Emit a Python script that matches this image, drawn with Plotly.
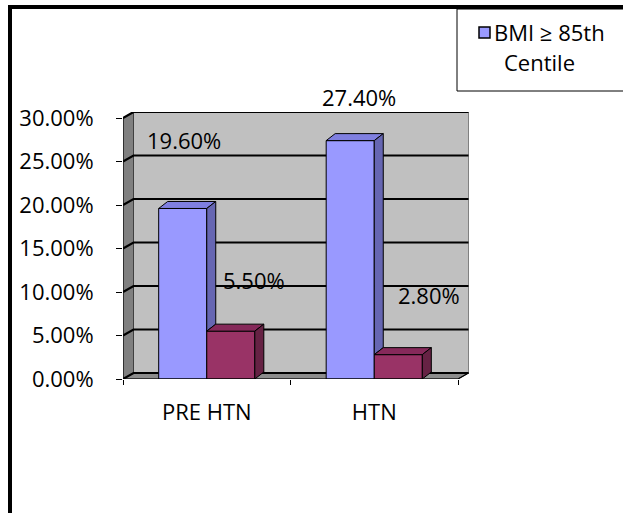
import plotly.graph_objects as go

# ---------------- data ----------------
categories = ["PRE HTN", "HTN"]
bmi_ge_85 = [19.6, 27.4]          # blue series
bmi_lt_85 = [5.5, 2.8]            # maroon series
series_names = ["BMI ≥ 85th Centile", "BMI < 85th Centile"]
y_tick_values = [0, 5, 10, 15, 20, 25, 30]

# ---------------- style / layout constants ----------------
W, H = 623, 513
PL, PR, PT, PB = 123, 469, 112, 379          # plot area in pixels
PX_PER_CAT = 167.5
PX_PER_PCT = 8.7
X_RANGE = [-0.5, -0.5 + (PR - PL) / PX_PER_CAT]
Y_RANGE = [0, (PB - PT) / PX_PER_PCT]

BARGAP = 0.426
BW = (1 - BARGAP) / 2                         # width of one bar in x units
DXB, DYB = 9 / PX_PER_CAT, 7 / PX_PER_PCT     # bar depth
DXW, DYW = 10.5 / PX_PER_CAT, 6 / PX_PER_PCT  # wall depth

FRONT = ["#9999FF", "#993366"]
TOP = ["#7F7FE0", "#86295A"]
SIDE = ["#6666B2", "#662244"]
WALL = "#C0C0C0"
SIDEWALL = "#808080"
FONT = "Open Sans"
FS = 22

# data label anchor positions (x in category units, y in % units)
label_pos = [[(-0.136, 27.47), (0.906, 32.47)],
             [(0.282, 11.38), (1.324, 9.71)]]

def pxx(px):
    return (px - PL) / (PR - PL)

def pxy(py):
    return (PB - py) / (PB - PT)

def dx_paper(x):
    return (x - X_RANGE[0]) / (X_RANGE[1] - X_RANGE[0])

def dy_paper(y):
    return (y - Y_RANGE[0]) / (Y_RANGE[1] - Y_RANGE[0])

fig = go.Figure()

series = [bmi_ge_85, bmi_lt_85]
xs = list(range(len(categories)))

# front faces
for j, vals in enumerate(series):
    fig.add_trace(go.Bar(
        x=xs, y=vals, name=series_names[j],
        marker=dict(color=FRONT[j], line=dict(color="black", width=1)),
        showlegend=False, hoverinfo="skip"))

# top and side faces
G = 2 * BW
for j, vals in enumerate(series):
    for i, v in enumerate(vals):
        x0 = i - G / 2 + j * BW
        x1 = x0 + BW
        fig.add_trace(go.Scatter(
            x=[x0, x1, x1 + DXB, x0 + DXB, x0],
            y=[v, v, v + DYB, v + DYB, v],
            mode="lines", fill="toself", fillcolor=TOP[j],
            line=dict(color="black", width=1), showlegend=False, hoverinfo="skip"))
        lo = series[j + 1][i] if j + 1 < len(series) else 0
        lo = min(lo, v)
        fig.add_trace(go.Scatter(
            x=[x1, x1, x1 + DXB, x1 + DXB, x1],
            y=[lo, v, v + DYB, lo + DYB, lo],
            mode="lines", fill="toself", fillcolor=SIDE[j],
            line=dict(color="black", width=1), showlegend=False, hoverinfo="skip"))

shapes = []
xl, xr = -0.5, len(categories) - 0.5
ytop = y_tick_values[-1]
# back wall
shapes.append(dict(type="path", layer="below", xref="x", yref="y",
                   path=f"M{xl+DXW},{DYW} L{xr+DXW},{DYW} L{xr+DXW},{ytop+DYW} L{xl+DXW},{ytop+DYW} Z",
                   fillcolor=WALL, line=dict(color="#808080", width=1)))
# left wall
shapes.append(dict(type="path", layer="below", xref="x", yref="y",
                   path=f"M{xl},0 L{xl+DXW},{DYW} L{xl+DXW},{ytop+DYW} L{xl},{ytop} Z",
                   fillcolor=SIDEWALL, line=dict(color="#404040", width=1)))
# floor
shapes.append(dict(type="path", layer="below", xref="x", yref="y",
                   path=f"M{xl},0 L{xr},0 L{xr+DXW},{DYW} L{xl+DXW},{DYW} Z",
                   fillcolor="#8C8C8C", line=dict(color="#404040", width=1)))
# gridlines
for v in y_tick_values:
    shapes.append(dict(type="path", layer="below", xref="x", yref="y",
                       path=f"M{xl},{v} L{xl+DXW},{v+DYW} L{xr+DXW},{v+DYW}",
                       line=dict(color="black", width=2.2)))
# front y edge
shapes.append(dict(type="line", xref="x", yref="y", x0=xl, x1=xl, y0=0, y1=ytop,
                   line=dict(color="black", width=1)))
# x baseline + slant at right end
shapes.append(dict(type="path", xref="x", yref="y",
                   path=f"M{xl},0 L{xr},0 L{xr+DXW},{DYW}",
                   line=dict(color="black", width=1.2)))

# outer border (cropped frame)
shapes.append(dict(type="line", xref="paper", yref="paper",
                   x0=pxx(8), x1=pxx(W + 5), y0=pxy(7), y1=pxy(7),
                   line=dict(color="black", width=4)))
shapes.append(dict(type="line", xref="paper", yref="paper",
                   x0=pxx(10), x1=pxx(10), y0=pxy(5), y1=pxy(H + 5),
                   line=dict(color="black", width=4)))
# legend box
shapes.append(dict(type="rect", xref="paper", yref="paper",
                   x0=pxx(457), x1=pxx(W + 20), y0=pxy(9), y1=pxy(91),
                   fillcolor="white", line=dict(color="black", width=1)))
shapes.append(dict(type="rect", xref="paper", yref="paper",
                   x0=pxx(479), x1=pxx(490), y0=pxy(27), y1=pxy(38),
                   fillcolor=FRONT[0], line=dict(color="black", width=1.5)))

annotations = []
for j, vals in enumerate(series):
    for i, v in enumerate(vals):
        ax, ay = label_pos[j][i]
        annotations.append(dict(x=dx_paper(ax), y=dy_paper(ay), xref="paper", yref="paper",
                                text=f"{v:.2f}%",
                                showarrow=False, xanchor="center", yanchor="middle",
                                font=dict(family=FONT, size=FS, color="black")))
legend_lines = ["BMI ≥ 85th", "Centile"]
annotations.append(dict(x=pxx(492), y=pxy(32), xref="paper", yref="paper",
                        text=legend_lines[0], showarrow=False, xanchor="left", yanchor="middle",
                        font=dict(family=FONT, size=FS, color="black")))
annotations.append(dict(x=pxx(502), y=pxy(62), xref="paper", yref="paper",
                        text=legend_lines[1], showarrow=False, xanchor="left", yanchor="middle",
                        font=dict(family=FONT, size=FS, color="black")))

fig.update_layout(
    width=W, height=H,
    margin=dict(l=PL, r=W - PR, t=PT, b=H - PB, pad=0),
    paper_bgcolor="white", plot_bgcolor="rgba(0,0,0,0)",
    barmode="group", bargap=BARGAP, bargroupgap=0,
    showlegend=False,
    shapes=shapes, annotations=annotations,
    font=dict(family=FONT, size=FS, color="black"),
    xaxis=dict(range=X_RANGE, tickmode="array", tickvals=xs, ticktext=categories,
               ticks="", showgrid=False, zeroline=False, showline=False,
               ticklabelstandoff=18,
               minor=dict(tickmode="array", tickvals=[x - 0.5 for x in xs] + [xs[-1] + 0.5],
                          ticks="outside", ticklen=5, tickcolor="black", tickwidth=1,
                          showgrid=False),
               fixedrange=True),
    yaxis=dict(range=Y_RANGE, tickmode="array", tickvals=y_tick_values,
               ticktext=[f"{v:.2f}%" for v in y_tick_values],
               ticks="outside", ticklen=6, tickcolor="black", tickwidth=1,
               ticklabelstandoff=18, showgrid=False, zeroline=False, showline=False,
               fixedrange=True),
)

fig.write_html("out.html")
